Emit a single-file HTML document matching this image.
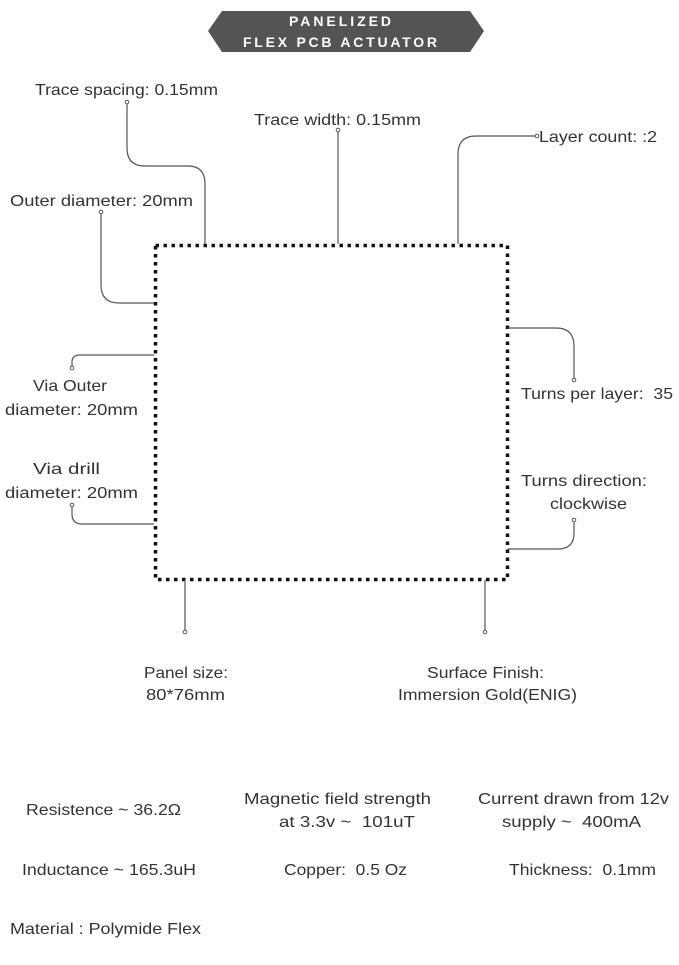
<!DOCTYPE html>
<html><head><style>
body{margin:0;width:679px;height:960px;background:#fff;overflow:hidden}
svg text{font-family:"Liberation Sans",sans-serif;fill:#333;font-size:16px;white-space:pre}
</style></head><body>
<svg width="679" height="960" viewBox="0 0 679 960">
<polygon points="222,11 470,11 484,31 470,52 222,52 208,31" fill="#545454"/>
<text x="289" y="26" textLength="102" lengthAdjust="spacing" style="fill:#fff;font-size:14px;font-weight:bold">PANELIZED</text>
<text x="243" y="47" textLength="194" lengthAdjust="spacing" style="fill:#fff;font-size:14px;font-weight:bold">FLEX PCB ACTUATOR</text>
<rect x="155.5" y="245.5" width="352" height="334" fill="none" stroke="#111" stroke-width="3.5" stroke-dasharray="3.5 4.5"/>
<g fill="none" stroke="#555" stroke-width="1.2">
<path d="M127,102 V148 Q127,166 145,166 H188 Q205,166 205,184 V244"/>
<path d="M338,130 V244"/>
<path d="M537,136 H476 Q458,136 458,154 V244"/>
<path d="M101,212 V285 Q101,303 119,303 H154"/>
<path d="M72,368 V362 Q72,355 80,355 H154"/>
<path d="M72,505 V514 Q72,524 82,524 H154"/>
<path d="M508,328 H556 Q574,328 574,346 V380"/>
<path d="M508,549 H558 Q574,549 574,533 V520"/>
<path d="M185,580 V632"/>
<path d="M485,580 V632"/>
</g>
<g fill="#fff" stroke="#555" stroke-width="1">
<circle cx="127" cy="102" r="1.8"/><circle cx="338" cy="130" r="1.8"/><circle cx="537" cy="136" r="1.8"/>
<circle cx="101" cy="212" r="1.8"/><circle cx="72" cy="368" r="1.8"/><circle cx="72" cy="505" r="1.8"/>
<circle cx="574" cy="380" r="1.8"/><circle cx="574" cy="520" r="1.8"/><circle cx="185" cy="632" r="1.8"/><circle cx="485" cy="632" r="1.8"/>
</g>
<g>
<text x="35" y="95" textLength="183" lengthAdjust="spacingAndGlyphs">Trace spacing: 0.15mm</text>
<text x="254" y="125" textLength="167" lengthAdjust="spacingAndGlyphs">Trace width: 0.15mm</text>
<text x="539" y="142" textLength="118" lengthAdjust="spacingAndGlyphs">Layer count: :2</text>
<text x="10" y="206" textLength="183" lengthAdjust="spacingAndGlyphs">Outer diameter: 20mm</text>
<text x="33" y="391" textLength="74" lengthAdjust="spacingAndGlyphs">Via Outer</text>
<text x="5" y="415" textLength="133" lengthAdjust="spacingAndGlyphs">diameter: 20mm</text>
<text x="33" y="474" textLength="67" lengthAdjust="spacingAndGlyphs">Via drill</text>
<text x="5" y="498" textLength="133" lengthAdjust="spacingAndGlyphs">diameter: 20mm</text>
<text x="521" y="399" textLength="152" lengthAdjust="spacingAndGlyphs">Turns per layer:  35</text>
<text x="521" y="486" textLength="126" lengthAdjust="spacingAndGlyphs">Turns direction:</text>
<text x="550" y="509" textLength="77" lengthAdjust="spacingAndGlyphs">clockwise</text>
<text x="144" y="678" textLength="84" lengthAdjust="spacingAndGlyphs">Panel size:</text>
<text x="146" y="700" textLength="79" lengthAdjust="spacingAndGlyphs">80*76mm</text>
<text x="427" y="678" textLength="117" lengthAdjust="spacingAndGlyphs">Surface Finish:</text>
<text x="398" y="700" textLength="179" lengthAdjust="spacingAndGlyphs">Immersion Gold(ENIG)</text>
<text x="26" y="815" textLength="155" lengthAdjust="spacingAndGlyphs">Resistence ~ 36.2Ω</text>
<text x="244" y="804" textLength="187" lengthAdjust="spacingAndGlyphs">Magnetic field strength</text>
<text x="279" y="827" textLength="136" lengthAdjust="spacingAndGlyphs">at 3.3v ~  101uT</text>
<text x="478" y="804" textLength="191" lengthAdjust="spacingAndGlyphs">Current drawn from 12v</text>
<text x="502" y="827" textLength="139" lengthAdjust="spacingAndGlyphs">supply ~  400mA</text>
<text x="22" y="875" textLength="174" lengthAdjust="spacingAndGlyphs">Inductance ~ 165.3uH</text>
<text x="284" y="875" textLength="123" lengthAdjust="spacingAndGlyphs">Copper:  0.5 Oz</text>
<text x="509" y="875" textLength="147" lengthAdjust="spacingAndGlyphs">Thickness:  0.1mm</text>
<text x="10" y="934" textLength="191" lengthAdjust="spacingAndGlyphs">Material : Polymide Flex</text>
</g>
</svg>
</body></html>
